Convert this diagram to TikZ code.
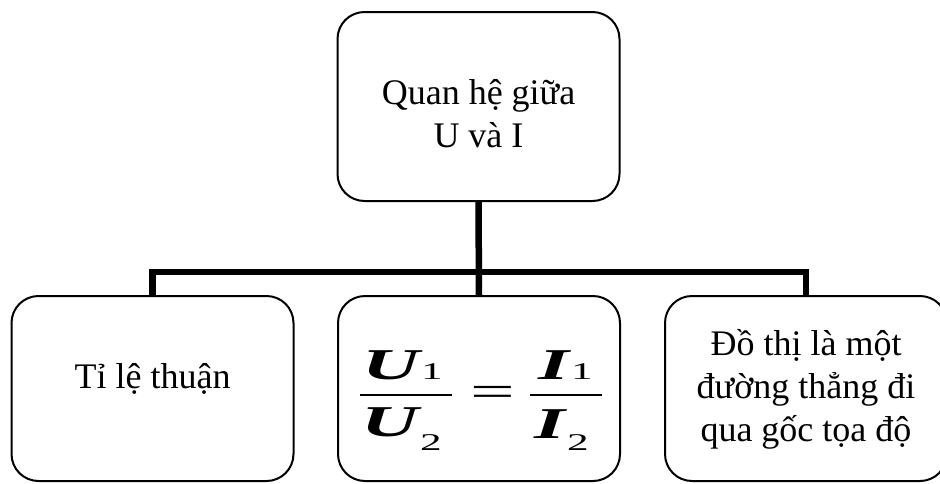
\documentclass[tikz,border=0pt]{standalone}
\usepackage{fontspec}
\setmainfont{Liberation Serif}
\usepackage{graphicx}
\newcommand{\wideglyph}[1]{\scalebox{1.8}[1]{#1}}
\begin{document}
\begin{tikzpicture}[x=1pt,y=-1pt,
  box/.style={draw, line width=2pt, rounded corners=27pt, inner sep=0pt, outer sep=0pt, minimum width=282pt},
  tallbox/.style={box, minimum height=189pt},
  lowbox/.style={box, minimum height=185pt},
  txt/.style={font=\fontsize{36}{43}\selectfont, align=center, inner sep=0pt, anchor=base},
  conn/.style={line width=6.5pt, line cap=butt, line join=miter},
  big/.style={font=\fontsize{44}{44}\selectfont\bfseries\itshape, inner sep=0pt, anchor=base west},
  sub/.style={font=\fontsize{24}{24}\selectfont, inner sep=0pt, anchor=base west},
  fbar/.style={line width=2pt}]
\useasboundingbox (0,0) rectangle (940,483);
% boxes
\node[tallbox] (top) at (478.5,106.5) {};
\node[lowbox] (left) at (152.5,388.5) {};
\node[lowbox] (mid) at (479,388.5) {};
\node[lowbox] (right) at (806,388.5) {};
% connectors
\coordinate (hub) at (479,272);
\draw[conn] (top.south) -- (mid.north);
\draw[conn] (left.north) -- (left.north |- hub) -- (right.north |- hub) -- (right.north);
% texts (base anchor = baseline of the last line)
\node[txt] (toptext) at (478.5,147) {Quan hệ giữa\\U và I};
\node[txt] (lefttext) at (152.5,388) {Tỉ lệ thuận};
\node[txt] (righttext) at (806,441) {Đồ thị là một\\đường thẳng đi\\qua gốc tọa độ};
% formula
\node[big] (u1) at (362,379) {\wideglyph{U}};
\node[sub] (u1s) at (421,379) {\wideglyph{1}};
\node[big] (u2) at (361,436) {\wideglyph{U}};
\node[sub] (u2s) at (420,450) {\wideglyph{2}};
\coordinate (b1l) at (360,395);
\coordinate (b1r) at (452,395);
\draw[fbar] (b1l) -- (b1r);
\node[inner sep=0pt, anchor=base, font=\fontsize{44}{44}\selectfont] (eq) at (492.5,406) {\wideglyph{=}};
\node[big] (i1) at (538,379) {\wideglyph{I}};
\node[sub] (i1s) at (571,379) {\wideglyph{1}};
\node[big] (i2) at (534,438) {\wideglyph{I}};
\node[sub] (i2s) at (567,450) {\wideglyph{2}};
\coordinate (b2l) at (530,395);
\coordinate (b2r) at (602,395);
\draw[fbar] (b2l) -- (b2r);
\end{tikzpicture}
\end{document}
